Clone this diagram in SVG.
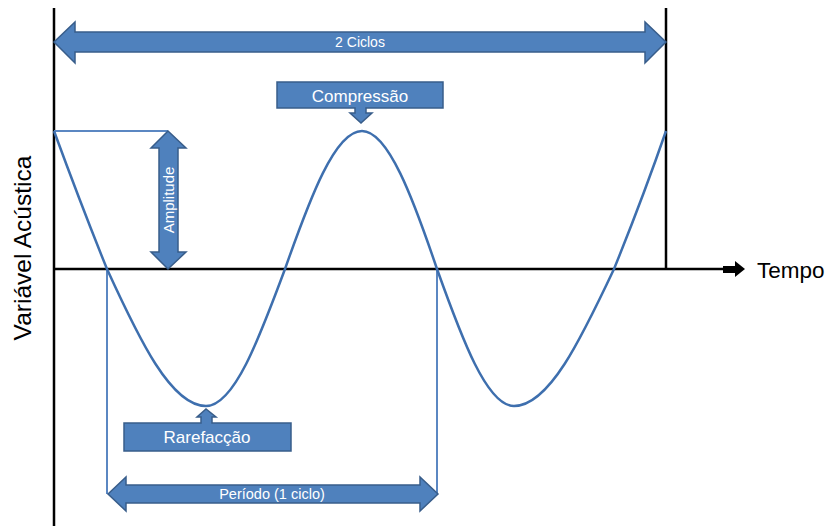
<svg xmlns="http://www.w3.org/2000/svg" width="830" height="526" viewBox="0 0 830 526">
<style>
.shape{fill:#4F81BD;stroke:#385D8A;stroke-width:1.5;stroke-linejoin:miter}
.lbl{fill:#ffffff;font-family:"Liberation Sans",Arial,sans-serif;text-anchor:middle}
.axis{stroke:#000;stroke-width:2.5;fill:none}
.guide{stroke:#5B87C2;stroke-width:2;fill:none}
.txt{fill:#000;font-family:"Liberation Sans",Arial,sans-serif}
</style>
<rect width="830" height="526" fill="#fff"/>
<g id="axes">
<line class="axis" x1="54" y1="8" x2="54" y2="526"/>
<line class="axis" x1="666" y1="8" x2="666" y2="269"/>
<line class="axis" x1="54" y1="269" x2="724" y2="269"/>
<polygon points="723,266 735,266 735,261 745,269 735,277 735,273 723,273" fill="#000"/>
<text class="txt" x="757" y="278" font-size="22.5">Tempo</text>
<text class="txt" transform="translate(31,248) rotate(-90)" font-size="24.5" text-anchor="middle">Variável Acústica</text>
</g>
<g id="guides">
<line class="guide" x1="54" y1="131" x2="168" y2="131"/>
<line class="guide" x1="107" y1="269" x2="107" y2="494"/>
<line class="guide" x1="437" y1="269" x2="437" y2="494"/>
</g>
<g id="wave">
<path d="M54,131 C72,180 92,232 107,269 C139,339 171,406 206,406 C234,406 259,339 285,269 C310,198 335,131 362,131 C388,131 413,198 437,269 C462,339 487,406 514,406 C549,406 581,339 614,269 C629,232 649,180 666,131" fill="none" stroke="#3E6FAE" stroke-width="2.5"/>
</g>
<g id="ciclos">
<polygon class="shape" points="54,42 75,22 75,32 645,32 645,22 666,42 645,63 645,52 75,52 75,63"/>
<text class="lbl" x="360" y="47" font-size="14">2 Ciclos</text>
</g>
<g id="amplitude">
<polygon class="shape" points="168,131 186,148 178,148 178,252 186,252 168,269 151,252 159,252 159,148 151,148"/>
<text class="lbl" transform="translate(173.5,200) rotate(-90)" font-size="15">Amplitude</text>
</g>
<g id="compressao">
<path class="shape" d="M277,82 H443 V108 H366 V113 H372 L361,123 L350,113 H355 V108 H277 Z"/>
<text class="lbl" x="360" y="101.5" font-size="17">Compressão</text>
</g>
<g id="rarefaccao">
<path class="shape" d="M124,423 H201 V417 H197 L206,409 L216,417 H212 V423 H291 V451 H124 Z"/>
<text class="lbl" x="207" y="443" font-size="17">Rarefacção</text>
</g>
<g id="periodo">
<polygon class="shape" points="108,494 126,477 126,485 420,485 420,477 438,494 420,511 420,503 126,503 126,511"/>
<text class="lbl" x="272" y="499" font-size="14.5">Período (1 ciclo)</text>
</g>
</svg>
